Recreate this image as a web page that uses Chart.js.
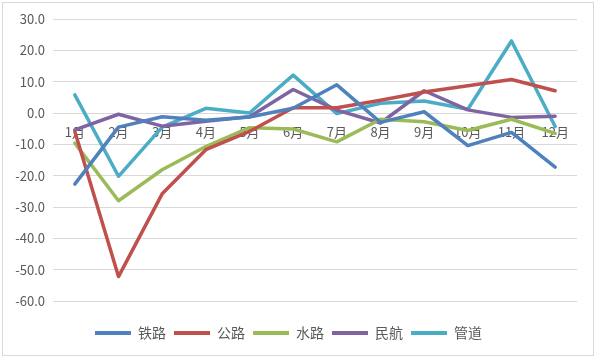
<!DOCTYPE html>
<html>
<head>
<meta charset="utf-8">
<script src="https://cdn.jsdelivr.net/npm/chart.js@4/dist/chart.umd.min.js"></script>
<style>
html,body{margin:0;padding:0;background:#fff;}
#wrap{width:597px;height:359px;position:relative;}
</style>
</head>
<body>
<div id="wrap"><canvas id="c" width="597" height="359"></canvas></div>
<script>
const categories = ['1月','2月','3月','4月','5月','6月','7月','8月','9月','10月','11月','12月'];
const seriesNames = ['铁路','公路','水路','民航','管道'];
const railway  = [-22.7, -4.5, -1.2, -2.3, -1.3, 1.5, 9.0, -3.0, 0.4, -10.4, -6.2, -17.3];
const highway  = [-5.9, -52.2, -25.8, -11.7, -5.9, 1.7, 1.7, 4.1, 6.7, 8.7, 10.7, 7.1];
const waterway = [-9.6, -28.0, -18.1, -10.7, -4.7, -5.1, -9.2, -2.0, -2.8, -5.6, -2.0, -6.5];
const aviation = [-5.4, -0.4, -4.2, -2.6, -1.2, 7.5, 0.9, -3.2, 7.1, 1.0, -1.4, -1.0];
const pipeline = [5.8, -20.2, -4.5, 1.5, 0.0, 12.1, -0.2, 3.1, 3.8, 1.2, 23.0, -4.3];
const yMin = -60, yMax = 30, yStep = 10;

const colors = ['#4f81bd','#c0504d','#9bbb59','#8064a2','#4bacc6'];
const values = [railway, highway, waterway, aviation, pipeline];
const FONT = '"Noto Sans CJK SC", "Noto Sans", sans-serif';
const TXT = '#595959';

const frame = {
  id: 'frame',
  beforeDraw(chart) {
    const ctx = chart.ctx;
    ctx.save();
    ctx.fillStyle = '#ffffff';
    ctx.fillRect(0, 0, chart.width, chart.height);
    ctx.strokeStyle = '#d9d9d9';
    ctx.lineWidth = 1;
    ctx.strokeRect(2.5, 2.5, 591, 353);
    ctx.restore();
  }
};

new Chart(document.getElementById('c'), {
  type: 'line',
  data: {
    labels: categories,
    datasets: values.map((v, i) => ({
      label: seriesNames[i],
      data: v,
      borderColor: colors[i],
      backgroundColor: colors[i],
      borderWidth: 3.5,
      pointRadius: 0,
      pointHoverRadius: 0,
      tension: 0,
      fill: false,
      borderJoinStyle: 'round',
      borderCapStyle: 'round'
    }))
  },
  options: {
    responsive: false,
    animation: false,
    devicePixelRatio: 1,
    layout: { padding: { top: 19, left: 0, right: 20, bottom: 9 } },
    scales: {
      x: {
        position: { y: 0 },
        offset: true,
        grid: { display: false, drawTicks: false },
        border: { display: false },
        ticks: { color: TXT, font: { family: FONT, size: 13 }, padding: 11, maxRotation: 0, autoSkip: false }
      },
      y: {
        min: yMin, max: yMax,
        grid: { color: '#d9d9d9', lineWidth: 1, drawTicks: false },
        border: { display: false },
        ticks: {
          stepSize: yStep,
          color: TXT,
          font: { family: FONT, size: 13 },
          padding: 8,
          callback: v => Number(v).toFixed(1)
        },
        afterFit(scale) { scale.width = 53; }
      }
    },
    plugins: {
      tooltip: { enabled: false },
      legend: {
        position: 'bottom',
        title: { display: true, text: '', font: { size: 12, lineHeight: 1 }, padding: { top: 0, bottom: 5 } },
        labels: {
          color: TXT,
          font: { family: FONT, size: 14 },
          boxWidth: 36,
          boxHeight: 4,
          padding: 8,
          generateLabels(chart) {
            return Chart.defaults.plugins.legend.labels.generateLabels(chart).map(l => ({
              ...l, lineWidth: 0, strokeStyle: 'rgba(0,0,0,0)'
            }));
          }
        }
      }
    }
  },
  plugins: [frame]
});
</script>
</body>
</html>
